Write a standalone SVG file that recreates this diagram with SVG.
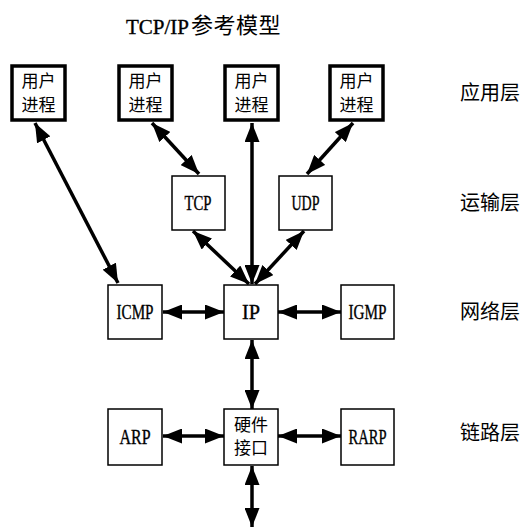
<svg xmlns="http://www.w3.org/2000/svg" width="526" height="527" viewBox="0 0 526 527">
  <style>
    .proc { fill: #fff; stroke: #000; stroke-width: 3.5; }
    .box { fill: #fff; stroke: #000; stroke-width: 1.5; }
    .cjk { font-family: "Noto Sans CJK SC", sans-serif; fill: #000; }
    .lat { font-family: "Liberation Serif", "Noto Sans CJK SC", serif; fill: #000; stroke: #000; stroke-width: 0.35; }
    .layer { font-family: "Noto Sans CJK SC", sans-serif; font-size: 20px; fill: #000; }
    .conn { stroke: #000; stroke-width: 3.5; fill: none; }
  </style>
  <defs>
    <marker id="head" viewBox="0 0 19 15" refX="19" refY="7.5" markerWidth="19" markerHeight="15" markerUnits="userSpaceOnUse" orient="auto-start-reverse">
      <path d="M0,0 L19,7.5 L0,15 Z" fill="#000"/>
    </marker>
  </defs>

  <rect width="526" height="527" fill="#fff"/>

  <!-- title -->
  <g id="title">
    <text class="lat" x="126" y="34" font-size="21" stroke-width="0.2">TCP/IP</text>
    <text class="cjk" x="191" y="33" font-size="22" letter-spacing="0.5">参考模型</text>
  </g>

  <!-- connectors -->
  <g id="connectors">
    <line class="conn" x1="35" y1="123" x2="118" y2="283" marker-start="url(#head)" marker-end="url(#head)"/>
    <line class="conn" x1="152" y1="123" x2="199" y2="174" marker-start="url(#head)" marker-end="url(#head)"/>
    <line class="conn" x1="252" y1="123" x2="252" y2="284" marker-start="url(#head)" marker-end="url(#head)"/>
    <line class="conn" x1="353" y1="123" x2="307" y2="174" marker-start="url(#head)" marker-end="url(#head)"/>
    <line class="conn" x1="193" y1="231" x2="249" y2="284" marker-start="url(#head)" marker-end="url(#head)"/>
    <line class="conn" x1="304" y1="231" x2="255" y2="284" marker-start="url(#head)" marker-end="url(#head)"/>
    <line class="conn" x1="163" y1="312" x2="224" y2="312" marker-start="url(#head)" marker-end="url(#head)"/>
    <line class="conn" x1="278" y1="312" x2="341" y2="312" marker-start="url(#head)" marker-end="url(#head)"/>
    <line class="conn" x1="252" y1="340" x2="252" y2="409" marker-start="url(#head)" marker-end="url(#head)"/>
    <line class="conn" x1="163" y1="436" x2="224" y2="436" marker-start="url(#head)" marker-end="url(#head)"/>
    <line class="conn" x1="278" y1="436" x2="341" y2="436" marker-start="url(#head)" marker-end="url(#head)"/>
    <line class="conn" x1="252" y1="466" x2="252" y2="527" marker-start="url(#head)" marker-end="url(#head)"/>
  </g>

  <!-- application processes -->
  <g id="proc1">
    <rect class="proc" x="12" y="66" width="53" height="54"/>
    <text class="cjk" x="38.5" y="87" font-size="17" text-anchor="middle">用户</text>
    <text class="cjk" x="38.5" y="111" font-size="17" text-anchor="middle">进程</text>
  </g>
  <g id="proc2">
    <rect class="proc" x="119" y="66" width="53" height="54"/>
    <text class="cjk" x="145.5" y="87" font-size="17" text-anchor="middle">用户</text>
    <text class="cjk" x="145.5" y="111" font-size="17" text-anchor="middle">进程</text>
  </g>
  <g id="proc3">
    <rect class="proc" x="225" y="66" width="53" height="54"/>
    <text class="cjk" x="251.5" y="87" font-size="17" text-anchor="middle">用户</text>
    <text class="cjk" x="251.5" y="111" font-size="17" text-anchor="middle">进程</text>
  </g>
  <g id="proc4">
    <rect class="proc" x="330" y="66" width="53" height="54"/>
    <text class="cjk" x="356.5" y="87" font-size="17" text-anchor="middle">用户</text>
    <text class="cjk" x="356.5" y="111" font-size="17" text-anchor="middle">进程</text>
  </g>

  <!-- transport -->
  <g id="tcp">
    <rect class="box" x="172" y="176" width="53" height="54"/>
    <text class="lat" x="184.5" y="210" font-size="20" textLength="27" lengthAdjust="spacingAndGlyphs">TCP</text>
  </g>
  <g id="udp">
    <rect class="box" x="279" y="176" width="53" height="54"/>
    <text class="lat" x="291.5" y="210" font-size="20" textLength="28" lengthAdjust="spacingAndGlyphs">UDP</text>
  </g>

  <!-- network -->
  <g id="icmp">
    <rect class="box" x="108" y="285" width="54" height="54"/>
    <text class="lat" x="116.5" y="319" font-size="20" textLength="37" lengthAdjust="spacingAndGlyphs">ICMP</text>
  </g>
  <g id="ip">
    <rect class="box" x="224" y="285" width="54" height="54"/>
    <text class="lat" x="242" y="319" font-size="20" textLength="18" lengthAdjust="spacingAndGlyphs">IP</text>
  </g>
  <g id="igmp">
    <rect class="box" x="341" y="285" width="53" height="54"/>
    <text class="lat" x="348.5" y="319" font-size="20" textLength="38" lengthAdjust="spacingAndGlyphs">IGMP</text>
  </g>

  <!-- link -->
  <g id="arp">
    <rect class="box" x="108" y="409" width="54" height="56"/>
    <text class="lat" x="119.5" y="444" font-size="20" textLength="31" lengthAdjust="spacingAndGlyphs">ARP</text>
  </g>
  <g id="hwif">
    <rect class="box" x="224" y="409" width="54" height="56"/>
    <text class="cjk" x="251" y="431" font-size="17" text-anchor="middle">硬件</text>
    <text class="cjk" x="251" y="454" font-size="17" text-anchor="middle">接口</text>
  </g>
  <g id="rarp">
    <rect class="box" x="341" y="409" width="53" height="56"/>
    <text class="lat" x="348.5" y="444" font-size="20" textLength="38" lengthAdjust="spacingAndGlyphs">RARP</text>
  </g>

  <!-- layer names -->
  <g id="layers">
    <text class="layer" x="460" y="100">应用层</text>
    <text class="layer" x="460" y="210">运输层</text>
    <text class="layer" x="460" y="319">网络层</text>
    <text class="layer" x="460" y="440">链路层</text>
  </g>
</svg>
